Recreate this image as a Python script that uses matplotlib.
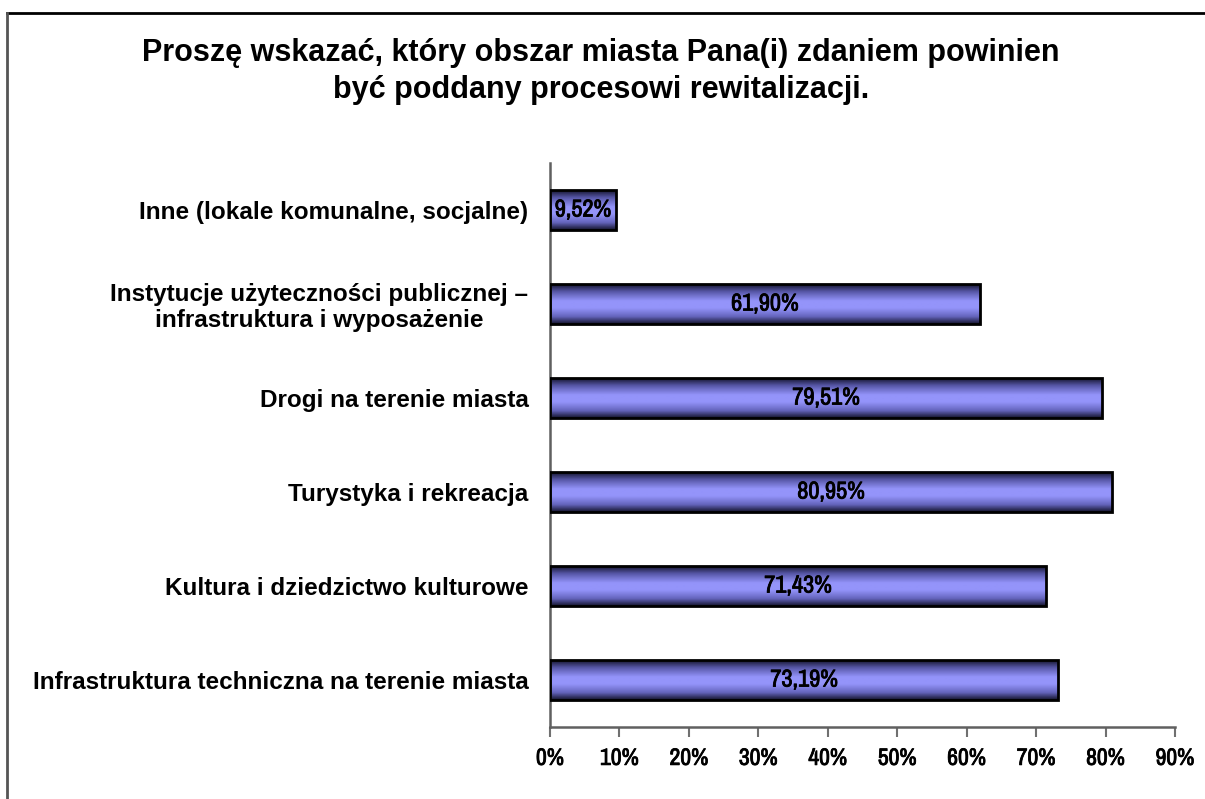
import matplotlib
matplotlib.use("Agg")
import matplotlib.pyplot as plt
from matplotlib import font_manager
import matplotlib.patheffects as pe
from matplotlib.colors import LinearSegmentedColormap
from matplotlib.lines import Line2D
import numpy as np

categories = [
    "Infrastruktura techniczna na terenie miasta",
    "Kultura i dziedzictwo kulturowe",
    "Turystyka i rekreacja",
    "Drogi na terenie miasta",
    "Instytucje użyteczności publicznej –\ninfrastruktura i wyposażenie",
    "Inne (lokale komunalne, socjalne)",
]
values = [73.19, 71.43, 80.95, 79.51, 61.90, 9.52]
value_labels = ["73,19%", "71,43%", "80,95%", "79,51%", "61,90%", "9,52%"]
xticks = [0, 10, 20, 30, 40, 50, 60, 70, 80, 90]
xtick_labels = [f"{t}%" for t in xticks]
title = "Proszę wskazać, który obszar miasta Pana(i) zdaniem powinien\nbyć poddany procesowi rewitalizacji."

names = {f.name for f in font_manager.fontManager.ttflist}
main_font = "Liberation Sans" if "Liberation Sans" in names else "DejaVu Sans"
narrow_font = main_font
narrow_stretch = "normal"
for f in font_manager.fontManager.ttflist:
    if "Narrow" in f.name:
        narrow_font = f.name
        break
else:
    for f in font_manager.fontManager.ttflist:
        if (f.stretch in ("condensed", "semi-condensed") or "ondensed" in f.fname) and f.weight in ("bold", 700):
            narrow_font = f.name
            narrow_stretch = "condensed"
            break

bold_fx = [pe.withStroke(linewidth=0.6, foreground="black")]

fig = plt.figure(figsize=(12.05, 7.99), dpi=100)
ax = fig.add_axes([0.4564, 0.0901, 0.5187, 0.7059])

y = np.arange(len(categories))
bars = ax.barh(y, values, height=0.425, color="none", edgecolor="black",
               linewidth=2, zorder=3)

cmap = LinearSegmentedColormap.from_list("g", [
    (0.0, "#15152e"), (0.18, "#5656a6"), (0.42, "#9494fa"),
    (0.6, "#9494fa"), (0.82, "#6464bc"), (1.0, "#15152e")])
grad = np.linspace(0, 1, 64).reshape(-1, 1)
for b in bars:
    x0, y0, w, h = b.get_x(), b.get_y(), b.get_width(), b.get_height()
    ax.imshow(grad, extent=[x0, x0 + w, y0, y0 + h], aspect="auto",
              cmap=cmap, zorder=2, interpolation="bilinear")

for b, lab in zip(bars, value_labels):
    ax.text(b.get_width() / 2, b.get_y() + b.get_height() / 2, lab,
            ha="center", va="center", fontsize=17.5, fontweight="bold",
            family=narrow_font, stretch=narrow_stretch, color="black", zorder=4,
            path_effects=bold_fx)

ax.set_xlim(0, 90)
ax.set_ylim(-0.5, len(categories) - 0.5)
ax.set_xticks(xticks)
ax.set_xticklabels(xtick_labels, fontsize=17, fontweight="bold",
                   family=narrow_font, stretch=narrow_stretch)
for lab in ax.get_xticklabels():
    lab.set_path_effects(bold_fx)
ax.set_yticks(y)
ax.set_yticklabels(categories, fontsize=17.5, fontweight="bold", family=main_font,
                   ha="right", multialignment="center", linespacing=1.15)
ax.tick_params(axis="y", length=0, pad=15.5)
ax.tick_params(axis="x", direction="out", length=7, width=1.5, color="#707070", pad=8)
for s in ["top", "right"]:
    ax.spines[s].set_visible(False)
for s in ["left", "bottom"]:
    ax.spines[s].set_color("#606060")
    ax.spines[s].set_linewidth(1.8)

fig.text(0.4988, 0.911, title, ha="center", va="center", fontsize=22,
         fontweight="bold", family=main_font, linespacing=1.3)

fig.add_artist(Line2D([0.006, 1.0], [1 - 12.5 / 799, 1 - 12.5 / 799],
                      transform=fig.transFigure, color="black", lw=2))
fig.add_artist(Line2D([7.5 / 1205, 7.5 / 1205], [0, 1 - 12.5 / 799],
                      transform=fig.transFigure, color="#555555", lw=2))

fig.savefig("out.png", dpi=100)
